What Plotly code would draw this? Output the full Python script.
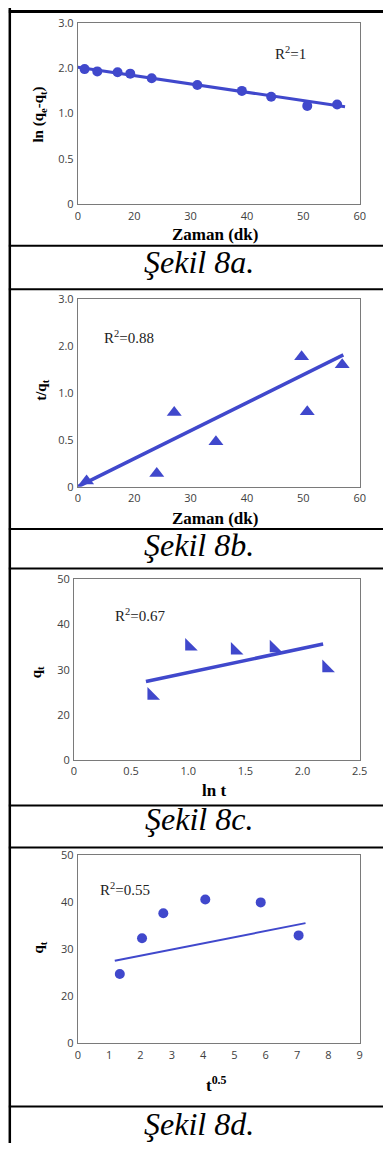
import numpy as np
import plotly.graph_objects as go

W, H = 391, 1150

# ---------------- data (in axis-label units) -------------
time_tick_labels = [0, 20, 30, 40, 50, 60]
ln_tick_labels = [0, 0.5, 1.0, 2.0, 3.0]
q_tick_labels = [0, 20, 30, 40, 50]

# Şekil 8a
a_x = [2.4, 6.9, 14.1, 18.6, 23.1, 31.2, 39.1, 44.3, 50.7, 56.0]
a_y = [1.98, 1.93, 1.91, 1.88, 1.78, 1.63, 1.50, 1.37, 1.17, 1.20]
a_fit_x = [0, 57.4]
a_fit_y = [2.02, 1.15]

# Şekil 8b
b_x = [3.1, 24.0, 27.1, 34.5, 49.7, 50.7, 56.9]
b_y = [0.06, 0.14, 0.79, 0.48, 1.77, 0.80, 1.60]
b_fit_x = [0, 57.1]
b_fit_y = [0, 1.81]

# Şekil 8c
c_x = [0.68, 1.01, 1.41, 1.75, 2.21]
c_y = [24.3, 35.2, 34.3, 34.8, 30.4]
c_fit_x = [0.63, 2.18]
c_fit_y = [27.4, 35.7]

# Şekil 8d
d_x = [1.34, 2.05, 2.73, 4.07, 5.84, 7.05]
d_y = [24.7, 32.3, 37.6, 40.5, 39.9, 32.9]
d_fit_x = [1.18, 7.27]
d_fit_y = [27.5, 35.5]

r2_texts = ["R<sup>2</sup>=1", "R<sup>2</sup>=0.88", "R<sup>2</sup>=0.67", "R<sup>2</sup>=0.55"]
captions = ["Şekil 8a.", "Şekil 8b.", "Şekil 8c.", "Şekil 8d."]


def to_pos(vals, labels):
    return np.interp(vals, labels, np.arange(len(labels)))


def px(x):
    return x / W


def py(y):
    return 1 - y / H


BLUE = "#4048CC"
fig = go.Figure()

# panel a
fig.add_trace(go.Scatter(x=to_pos(a_fit_x, time_tick_labels), y=to_pos(a_fit_y, ln_tick_labels),
                         mode="lines", line=dict(color=BLUE, width=3), xaxis="x", yaxis="y"))
fig.add_trace(go.Scatter(x=to_pos(a_x, time_tick_labels), y=to_pos(a_y, ln_tick_labels),
                         mode="markers", marker=dict(color=BLUE, size=10, symbol="circle"),
                         xaxis="x", yaxis="y"))
# panel b
fig.add_trace(go.Scatter(x=to_pos(b_fit_x, time_tick_labels), y=to_pos(b_fit_y, ln_tick_labels),
                         mode="lines", line=dict(color=BLUE, width=3.5), xaxis="x2", yaxis="y2"))
fig.add_trace(go.Scatter(x=to_pos(b_x, time_tick_labels), y=to_pos(b_y, ln_tick_labels),
                         mode="markers", marker=dict(color=BLUE, size=13, symbol="triangle-up"),
                         xaxis="x2", yaxis="y2"))
# panel c
fig.add_trace(go.Scatter(x=c_fit_x, y=to_pos(c_fit_y, q_tick_labels),
                         mode="lines", line=dict(color=BLUE, width=3.5), xaxis="x3", yaxis="y3"))
fig.add_trace(go.Scatter(x=c_x, y=to_pos(c_y, q_tick_labels),
                         mode="markers", marker=dict(color=BLUE, size=14, symbol="triangle-sw"),
                         xaxis="x3", yaxis="y3"))
# panel d
fig.add_trace(go.Scatter(x=d_fit_x, y=to_pos(d_fit_y, q_tick_labels),
                         mode="lines", line=dict(color=BLUE, width=2), xaxis="x4", yaxis="y4"))
fig.add_trace(go.Scatter(x=d_x, y=to_pos(d_y, q_tick_labels),
                         mode="markers", marker=dict(color=BLUE, size=10, symbol="circle"),
                         xaxis="x4", yaxis="y4"))

tickfont = dict(family="Open Sans", size=11, color="#404040")
common = dict(showgrid=False, zeroline=False, showline=True, mirror=True,
              linecolor="#7a7a7a", linewidth=1, ticks="outside", ticklen=1,
              tickcolor="rgba(0,0,0,0)", tickfont=tickfont, fixedrange=True)

panels = [  # x0, x1, ytop, ybottom
    (77, 367, 15, 199),
    (77, 367, 295, 485),
    (73, 367, 579, 762),
    (77, 367, 858, 1049),
]

layout = dict(width=W, height=H, margin=dict(l=0, r=0, t=0, b=0), autosize=False,
              paper_bgcolor="white", plot_bgcolor="white", showlegend=False)

time_pos = list(range(len(time_tick_labels)))
ln_pos = list(range(len(ln_tick_labels)))
q_pos = list(range(len(q_tick_labels)))
ln_text = ["0", "0.5", "1.0", "2.0", "3.0"]
time_text = [str(v) for v in time_tick_labels]
q_text = [str(v) for v in q_tick_labels]

xcfg = [
    dict(range=[0, 5], tickvals=time_pos, ticktext=time_text),
    dict(range=[0, 5], tickvals=time_pos, ticktext=time_text),
    dict(range=[0, 2.5], tickvals=[0, 0.5, 1, 1.5, 2, 2.5], ticktext=["0", "0.5", "1.0", "1.5", "2.0", "2.5"]),
    dict(range=[0, 9], tickvals=list(range(10)), ticktext=[str(i) for i in range(10)]),
]
ycfg = [
    dict(range=[0, 4], tickvals=ln_pos, ticktext=ln_text),
    dict(range=[0, 4], tickvals=ln_pos, ticktext=ln_text),
    dict(range=[0, 4], tickvals=q_pos, ticktext=q_text),
    dict(range=[0, 4], tickvals=q_pos, ticktext=q_text),
]

for i, (x0, x1, yt, yb) in enumerate(panels):
    sfx = "" if i == 0 else str(i + 1)
    layout["xaxis" + sfx] = dict(domain=[px(x0), px(x1)], anchor="y" + sfx, **xcfg[i], **common)
    layout["yaxis" + sfx] = dict(domain=[py(yb), py(yt)], anchor="x" + sfx, **ycfg[i], **common)

fig.update_layout(**layout)

serif = "Liberation Serif"
ann = []
# R^2 labels
r2_pos = [(296, 46, "center"), (102, 333, "left"), (113, 615, "left"), (98, 893, "left")]
for (x, y, al), t in zip(r2_pos, r2_texts):
    ann.append(dict(x=px(x), y=py(y), xref="paper", yref="paper", text=t, showarrow=False,
                    xanchor=al, yanchor="middle", font=dict(family=serif, size=15, color="#222")))
# axis titles
xt = [(218, 230, "Zaman (dk)"), (218, 517, "Zaman (dk)"),
      (217, 793, "ln t"), (220, 1090, "t<sup>0.5</sup>")]
for x, y, t in xt:
    ann.append(dict(x=px(x), y=py(y), xref="paper", yref="paper", text=t, showarrow=False,
                    xanchor="center", yanchor="middle",
                    font=dict(family=serif, size=17, color="black", weight="bold")))
yt_ = [(37, 108, "ln (q<sub>e</sub>-q<sub>t</sub>)"), (40, 387, "t/q<sub>t</sub>"),
       (35, 673, "q<sub>t</sub>"), (37, 952, "q<sub>t</sub>")]
for x, y, t in yt_:
    ann.append(dict(x=px(x), y=py(y), xref="paper", yref="paper", text=t, showarrow=False,
                    textangle=-90, xanchor="center", yanchor="middle",
                    font=dict(family=serif, size=15, color="black", weight="bold")))
# captions
cap_y = [257, 544, 822, 1131]
for y, t in zip(cap_y, captions):
    ann.append(dict(x=px(202), y=py(y), xref="paper", yref="paper", text=t,
                    showarrow=False, xanchor="center", yanchor="middle",
                    font=dict(family=serif, size=32, color="black", style="italic")))
fig.update_layout(annotations=ann)

# table lines
shapes = []
for y, w in [(3.5, 3), (241, 2), (285, 2), (528, 2), (568, 2), (808, 2), (850.5, 2), (1113, 2)]:
    shapes.append(dict(type="line", xref="paper", yref="paper", x0=px(6), x1=1, y0=py(y), y1=py(y),
                       line=dict(color="black", width=w)))
shapes.append(dict(type="line", xref="paper", yref="paper", x0=px(7), x1=px(7), y0=0, y1=1,
                   line=dict(color="black", width=2.5)))
fig.update_layout(shapes=shapes)

fig.write_html("out.html")
